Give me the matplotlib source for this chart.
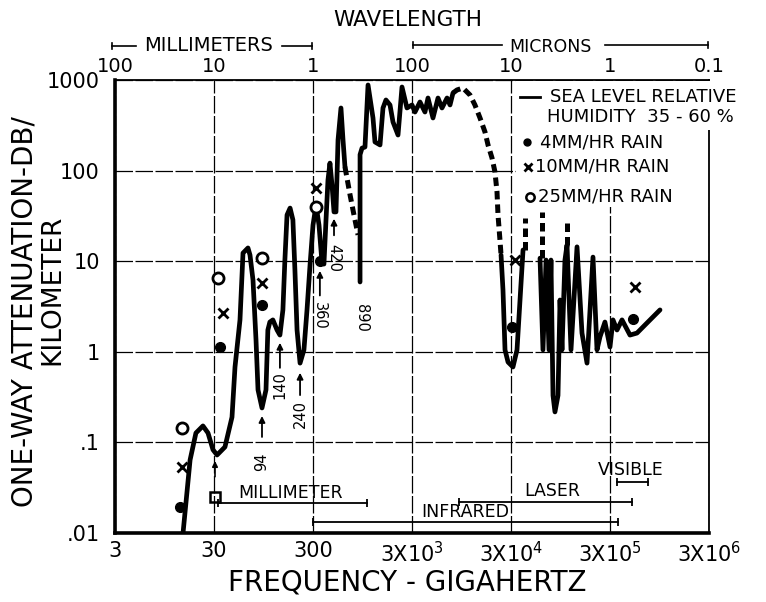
import matplotlib
matplotlib.use("Agg")
import matplotlib.pyplot as plt
import matplotlib.transforms as mtransforms
from matplotlib.patches import Rectangle

# ---- data (frequency in GHz, attenuation in dB/km) ----
# millimetre-wave part of the sea level curve (solid)
mm_freq = [14.6, 17.2, 19.7, 23.2, 26.1, 29.3, 32.2, 38.7, 45.6, 48.9,
           54.9, 58.9, 66.1, 69.3, 74.3, 79.7, 83.5, 91.6, 100.5, 105,
           110, 118, 130, 139, 149, 156, 164, 176, 188, 197,
           207, 222, 243, 261, 280, 300, 322, 345, 370, 387,
           406, 425, 445, 467, 489, 512, 537, 575, 603, 631]
mm_att = [0.01, 0.064, 0.127, 0.152, 0.127, 0.083, 0.0726, 0.089, 0.19, 0.68,
          2.25, 12.3, 14, 11.7, 6.2, 1.35, 0.38, 0.24, 0.38, 1.74,
          2.13, 2.25, 1.74, 1.53, 2.9, 10.3, 32.4, 38.6, 28.6, 8.0,
          1.74, 0.75, 1.05, 2.9, 9.1, 25, 41.7, 25, 9.6, 9.3,
          28.6, 78.8, 121, 69, 35, 35, 218, 491, 218, 110]

# extrapolated (dashed) link down to the 890 GHz window
gap1_freq = [631, 710, 778, 855]
gap1_att = [110, 54, 32.4, 19.5]

# sub-millimetre / far infrared part (solid)
fir_freq = [896, 896, 938, 1005, 1079, 1211, 1268, 1426, 1528, 1637,
            1799, 1928, 2167, 2377, 2668, 3000, 3216, 3612, 4055, 4353,
            4887, 5494, 6027, 6777, 7263, 7782]
fir_att = [5.9, 150, 177, 182, 881, 381, 207, 192, 491, 602,
           530, 344, 247, 837, 491, 530, 443, 572, 443, 633,
           381, 633, 491, 633, 530, 719]

# extrapolated (dashed) arc down to the 10 micron window
gap2_freq = [7782, 8547, 9825, 11560, 12970, 14590, 16380, 17580, 19280,
             20660, 21670, 22170, 23200, 23800]
gap2_att = [719, 776, 816, 683, 530, 381, 267, 192, 138, 96.6, 58, 32.5,
            17.2, 11.7]

# infrared windows (solid)
ir1_freq = [23800, 24900, 26100, 28000, 31400, 34500, 37000, 39700]
ir1_att = [11.7, 4.8, 1.05, 0.77, 0.68, 1.05, 3.73, 13.3]

ir2_freq = [58900, 63100, 67800, 72600, 76000, 79700, 83400, 89500, 93800,
            98200, 105200, 110400, 121100, 139300, 156400, 175800, 202000,
            221700, 237600, 266700, 300000, 321600, 353000, 396600, 477600,
            562000, 709000, 960000]
ir2_att = [10.8, 1.05, 10.3, 1.05, 10.3, 0.33, 0.217, 0.33, 3.73,
           1.05, 10.3, 15.1, 1.05, 14.4, 1.61, 0.75, 11.1,
           1.05, 1.46, 2.13, 1.13, 2.25, 1.74, 2.25, 1.53,
           1.61, 2.08, 2.9]

# dashed tops of the infrared absorption spikes
spike_freq = [41500, 61700, 110400]
spike_lo = [13.3, 10.8, 15.1]
spike_hi = [30, 35, 28.6]

# rain attenuation points
rain4_freq = [13.6, 34.5, 91.6, 350, 30700, 512000]
rain4_att = [0.0194, 1.13, 3.3, 10, 1.88, 2.3]
rain10_freq = [14.2, 37, 91.6, 320, 32900, 537000]
rain10_att = [0.053, 2.7, 5.7, 65, 10.3, 5.2]
rain25_freq = [14.2, 33, 91.6, 320]
rain25_att = [0.144, 6.5, 10.8, 40]

# absorption lines marked with arrows: label, freq, arrow tail, arrow head, text
line_labels = ["94", "140", "240", "360", "420"]
line_freq = [91.6, 139, 222, 352, 489]
line_tail = [0.107, 0.62, 0.31, 3.9, 18]
line_head = [0.21, 1.35, 0.63, 8.4, 31.6]
line_text = [0.061, 0.43, 0.206, 2.48, 10.8]
line_rot = [90, 90, 90, -90, -90]

# spectral bands: name, lower and upper frequency
band_names = ["MILLIMETER", "INFRARED", "LASER", "VISIBLE"]
band_lo = [33, 300, 8950, 353000]
band_hi = [1050, 360000, 500000, 726000]

freq_ticks = [3, 30, 300, 3e3, 3e4, 3e5, 3e6]
freq_labels = ["3", "30", "300", "3X10$^3$", "3X10$^4$", "3X10$^5$", "3X10$^6$"]
wave_labels = ["100", "10", "1", "100", "10", "1", "0.1"]
att_ticks = [0.01, 0.1, 1, 10, 100, 1000]
att_labels = [".01", ".1", "1", "10", "100", "1000"]

# ---- figure ----
fig = plt.figure(figsize=(7.66, 6.02), dpi=100)
ax = fig.add_axes([115 / 766, 1 - 533 / 602, 594 / 766, 453 / 602])
ax.set_xscale("log")
ax.set_yscale("log")
ax.set_xlim(3, 3e6)
ax.set_ylim(0.01, 1000)

ax.set_xticks(freq_ticks)
ax.set_xticklabels(freq_labels, fontsize=15)
ax.set_yticks(att_ticks)
ax.set_yticklabels(att_labels, fontsize=15)
ax.xaxis.set_minor_locator(matplotlib.ticker.NullLocator())
ax.yaxis.set_minor_locator(matplotlib.ticker.NullLocator())
ax.tick_params(axis="x", length=0, pad=6)
ax.tick_params(axis="y", length=0, pad=11)
ax.grid(True, color="black", lw=0.9, ls=(0, (14, 2)))

for side, w in [("left", 2.6), ("bottom", 2.6), ("top", 1.3), ("right", 1.3)]:
    ax.spines[side].set_linewidth(w)

top = ax.twiny()
top.set_xscale("log")
top.set_xlim(3, 3e6)
top.set_xticks(freq_ticks)
top.set_xticklabels(wave_labels, fontsize=14)
top.xaxis.set_minor_locator(matplotlib.ticker.NullLocator())
top.tick_params(axis="x", length=0, pad=3)
for s in top.spines.values():
    s.set_visible(False)

solid = dict(color="black", lw=3.4, solid_joinstyle="round",
             solid_capstyle="round")
dashed = dict(color="black", lw=3.6, ls=(0, (1.7, 1.0)), dash_capstyle="butt")

ax.plot(mm_freq, mm_att, **solid)
ax.plot(gap1_freq, gap1_att, **dashed)
ax.plot(fir_freq, fir_att, **solid)
ax.plot(gap2_freq, gap2_att, **dashed)
ax.plot(ir1_freq, ir1_att, **solid)
ax.plot(ir2_freq, ir2_att, **solid)
for f, lo, hi in zip(spike_freq, spike_lo, spike_hi):
    ax.plot([f, f], [lo, hi], **dashed)

ax.plot(rain4_freq, rain4_att, "o", color="black", ms=7, zorder=4)
ax.plot(rain10_freq, rain10_att, "x", color="black", ms=7, mew=2, zorder=4)
ax.plot(rain25_freq, rain25_att, "o", mfc="white", mec="black", ms=8, mew=2,
        zorder=4)
ax.plot([30.7], [0.025], "s", mfc="none", mec="black", ms=7, mew=1.8)
ax.annotate("", xy=(30.7, 0.067), xytext=(30.7, 0.039),
            arrowprops=dict(arrowstyle="-|>", lw=1.2, color="black",
                            mutation_scale=8))

for lab, f, t, h, y, r in zip(line_labels, line_freq, line_tail, line_head,
                              line_text, line_rot):
    ax.annotate("", xy=(f, h), xytext=(f, t),
                arrowprops=dict(arrowstyle="-|>", lw=1.3, color="black",
                                mutation_scale=9))
    ax.text(f, y, lab, rotation=r, ha="center", va="center", fontsize=10.5)
ax.text(917, 2.35, "890", rotation=-90, ha="center", va="center",
        fontsize=10.5)

# band brackets near the bottom
bt = mtransforms.blended_transform_factory(ax.transData, ax.transAxes)
band_y = [0.066, 0.024, 0.068, 0.113]
band_text_x = [180, 10300, 77600, 489000]
band_text_y = [0.088, 0.046, 0.093, 0.139]
for name, lo, hi, y, tx, ty in zip(band_names, band_lo, band_hi, band_y,
                                   band_text_x, band_text_y):
    ax.plot([lo, hi], [y, y], color="black", lw=1.3, transform=bt)
    ax.plot([lo, hi], [y, y], "|", color="black", ms=6, mew=1.3, transform=bt)
    ax.text(tx, ty, name, transform=bt, ha="center", va="center",
            fontsize=12.5)

# legend block in the upper right, grid cleared behind it
ax.add_patch(Rectangle((0.675, 0.72), 0.33, 0.277, transform=ax.transAxes,
                       facecolor="white", edgecolor="none", zorder=1.8))
ax.add_patch(Rectangle((0.99, 0.89), 0.03, 0.107, transform=ax.transAxes,
                       facecolor="white", edgecolor="none", zorder=2.6,
                       clip_on=False))
ax.plot([0.682, 0.715], [0.9625, 0.9625], color="black", lw=2,
        transform=ax.transAxes, clip_on=False)
ax.text(0.732, 0.9625, "SEA LEVEL RELATIVE", transform=ax.transAxes,
        ha="left", va="center", fontsize=13, zorder=5)
ax.text(0.727, 0.918, "HUMIDITY  35 - 60 %", transform=ax.transAxes,
        ha="left", va="center", fontsize=13, zorder=5)
ax.plot([0.694], [0.863], "o", color="black", ms=5, transform=ax.transAxes,
        clip_on=False)
ax.text(0.716, 0.863, "4MM/HR RAIN", transform=ax.transAxes, ha="left",
        va="center", fontsize=13)
ax.plot([0.695], [0.808], "x", color="black", ms=6, mew=2,
        transform=ax.transAxes, clip_on=False)
ax.text(0.707, 0.808, "10MM/HR RAIN", transform=ax.transAxes, ha="left",
        va="center", fontsize=13)
ax.plot([0.699], [0.742], "o", mfc="white", mec="black", ms=6, mew=1.8,
        transform=ax.transAxes, clip_on=False)
ax.text(0.712, 0.742, "25MM/HR RAIN", transform=ax.transAxes, ha="left",
        va="center", fontsize=13)

# axis titles
fig.text(0.532, 0.033, "FREQUENCY - GIGAHERTZ", ha="center", va="center",
         fontsize=20)
fig.text(0.032, 0.482, "ONE-WAY ATTENUATION-DB/", rotation=90, ha="center",
         va="center", fontsize=20)
fig.text(0.069, 0.518, "KILOMETER", rotation=90, ha="center", va="center",
         fontsize=19)
fig.text(0.533, 0.967, "WAVELENGTH", ha="center", va="center", fontsize=15.5)
fig.text(0.272, 0.925, "MILLIMETERS", ha="center", va="center", fontsize=14)
fig.text(0.719, 0.922, "MICRONS", ha="center", va="center", fontsize=12.5)

# brackets next to the wavelength unit names
for x0, x1, y in [(0.146, 0.178, 0.924), (0.368, 0.407, 0.924),
                  (0.539, 0.655, 0.925), (0.790, 0.924, 0.925)]:
    fig.add_artist(plt.Line2D([x0, x1], [y, y], color="black", lw=1.2))
for x, y in [(0.146, 0.924), (0.407, 0.924), (0.539, 0.925), (0.924, 0.925)]:
    fig.add_artist(plt.Line2D([x, x], [y - 0.005, y + 0.005], color="black",
                              lw=1.2))

fig.savefig("out.png", dpi=100)
